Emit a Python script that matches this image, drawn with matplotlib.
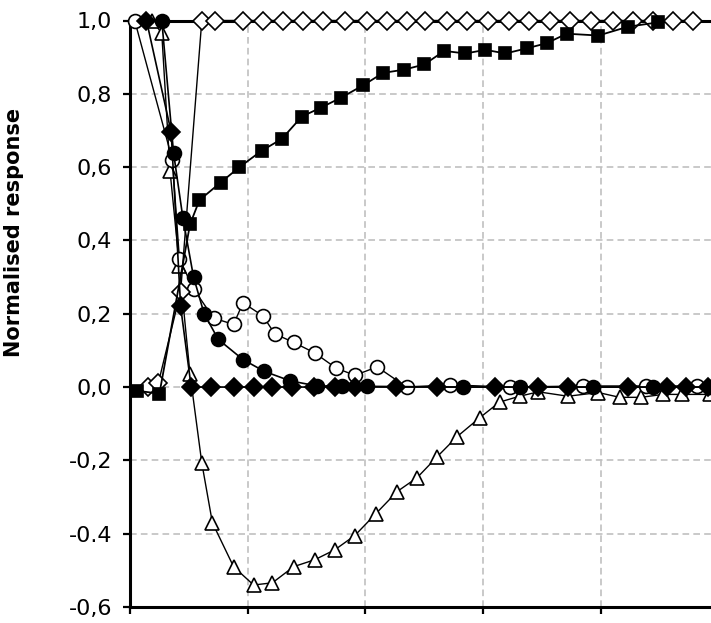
import numpy as np
import matplotlib.pyplot as plt

# filled squares
sq_x = [0.06, 0.25, 0.51, 0.59, 0.77, 0.93, 1.12, 1.29, 1.46, 1.62, 1.79, 1.98, 2.15,
        2.33, 2.50, 2.67, 2.85, 3.02, 3.19, 3.37, 3.54, 3.71, 3.98, 4.23, 4.49]
sq_y = [-0.01, -0.018, 0.444, 0.51, 0.558, 0.60, 0.645, 0.677, 0.738, 0.762, 0.789, 0.823, 0.857,
        0.866, 0.88, 0.917, 0.91, 0.92, 0.91, 0.924, 0.938, 0.964, 0.959, 0.983, 0.995]

# open diamonds
od_x = [0.15, 0.24, 0.43, 0.61, 0.72, 0.96, 1.13, 1.30, 1.47, 1.64, 1.83, 2.01, 2.18, 2.35,
        2.51, 2.69, 2.86, 3.04, 3.22, 3.39, 3.57, 3.74, 3.92, 4.10, 4.27, 4.44, 4.61, 4.78]
od_y = [0.0, 0.01, 0.26, 1.0, 1.0, 1.0, 1.0, 1.0, 1.0, 1.0, 1.0, 1.0, 1.0, 1.0,
        1.0, 1.0, 1.0, 1.0, 1.0, 1.0, 1.0, 1.0, 1.0, 1.0, 1.0, 1.0, 1.0, 1.0]

# filled diamonds
fd_x = [0.14, 0.35, 0.43, 0.52, 0.69, 0.88, 1.05, 1.21, 1.38, 1.56, 1.74, 1.91, 2.26,
        2.61, 3.10, 3.47, 3.72, 4.23, 4.56, 4.72, 4.91]
fd_y = [1.0, 0.695, 0.22, 0.0, 0.0, 0.0, 0.0, 0.0, 0.0, 0.0, 0.0, 0.0, 0.0,
        0.0, 0.0, 0.0, 0.0, 0.0, 0.0, 0.0, 0.0]

# filled circles
fc_x = [0.27, 0.37, 0.45, 0.54, 0.63, 0.75, 0.96, 1.14, 1.36, 1.59, 1.80, 2.01, 2.83,
        3.31, 3.93, 4.44, 4.93]
fc_y = [1.0, 0.639, 0.46, 0.30, 0.20, 0.13, 0.075, 0.043, 0.017, 0.003, 0.003, 0.002, 0.0,
        0.0, 0.0, 0.0, 0.0]

# open circles
oc_x = [0.04, 0.36, 0.42, 0.54, 0.71, 0.88, 0.96, 1.13, 1.23, 1.39, 1.57, 1.75, 1.91,
        2.10, 2.35, 2.72, 3.23, 3.85, 4.38, 4.82]
oc_y = [1.0, 0.62, 0.349, 0.268, 0.188, 0.171, 0.23, 0.194, 0.145, 0.122, 0.093, 0.052, 0.032,
        0.055, 0.0, 0.006, 0.0, 0.003, 0.003, 0.003]

# open triangles
tr_x = [0.19, 0.27, 0.34, 0.42, 0.51, 0.61, 0.70, 0.88, 1.05, 1.21, 1.39, 1.57, 1.74, 1.91,
        2.09, 2.27, 2.44, 2.61, 2.78, 2.97, 3.14, 3.31, 3.47, 3.72, 3.98, 4.16, 4.34, 4.53,
        4.69, 4.93]
tr_y = [1.0, 0.965, 0.59, 0.33, 0.035, -0.207, -0.37, -0.49, -0.54, -0.534, -0.49, -0.471,
        -0.444, -0.405, -0.345, -0.285, -0.247, -0.19, -0.135, -0.084, -0.041, -0.025, -0.013,
        -0.025, -0.015, -0.028, -0.028, -0.02, -0.02, -0.02]

y_ticks = [-0.6, -0.4, -0.2, 0.0, 0.2, 0.4, 0.6, 0.8, 1.0]
y_labels = ['-0,6', '-0.4', '-0,2', '0,0', '0,2', '0,4', '0,6', '0,8', '1,0']

fig = plt.figure(figsize=(7.11, 6.23), dpi=100)
# axes runs past the right edge of the canvas, like the cropped original
ax = fig.add_axes([130 / 711, 16 / 623, 588.5 / 711, 586.5 / 623])

grid_kw = dict(color='#c0c0c0', lw=1.2, linestyle=(0, (4, 2.5)), zorder=0)
for gx in [1, 2, 3, 4]:
    ax.axvline(gx, **grid_kw)
for gy in [-0.4, -0.2, 0.0, 0.2, 0.4, 0.6, 0.8]:
    ax.axhline(gy, **grid_kw)

common = dict(color='black', clip_on=False, markeredgecolor='black', markeredgewidth=1.2)
ax.plot(tr_x, tr_y, marker='^', ms=10.5, mfc='white', lw=1.0, zorder=3, **common)
ax.plot(oc_x, oc_y, marker='o', ms=10, mfc='white', lw=1.0, zorder=3, **common)
ax.plot(od_x, od_y, marker='D', ms=9.5, mfc='white', lw=1.0, zorder=4, **common)
ax.plot(fd_x, fd_y, marker='D', ms=9, mfc='black', lw=1.2, zorder=4, **common)
ax.plot(fc_x, fc_y, marker='o', ms=10, mfc='black', lw=1.2, zorder=5, **common)
ax.plot(sq_x, sq_y, marker='s', ms=9, mfc='black', lw=1.3, zorder=5, **common)

ax.set_xlim(0, 5)
ax.set_ylim(-0.6, 1.0)
ax.set_xticks([0, 1, 2, 3, 4, 5])
ax.set_xticklabels([])
ax.set_yticks(y_ticks)
ax.set_yticklabels(y_labels, fontsize=16)

for side in ['left', 'bottom', 'top']:
    ax.spines[side].set_linewidth(2.2)
ax.spines['right'].set_visible(False)
ax.tick_params(axis='both', direction='out', length=5, width=1.6, pad=8)

ax.set_ylabel('Normalised response', fontsize=15, fontweight='bold')
ax.yaxis.set_label_coords(-0.18, 0.639)

fig.savefig('out.png', dpi=100)
